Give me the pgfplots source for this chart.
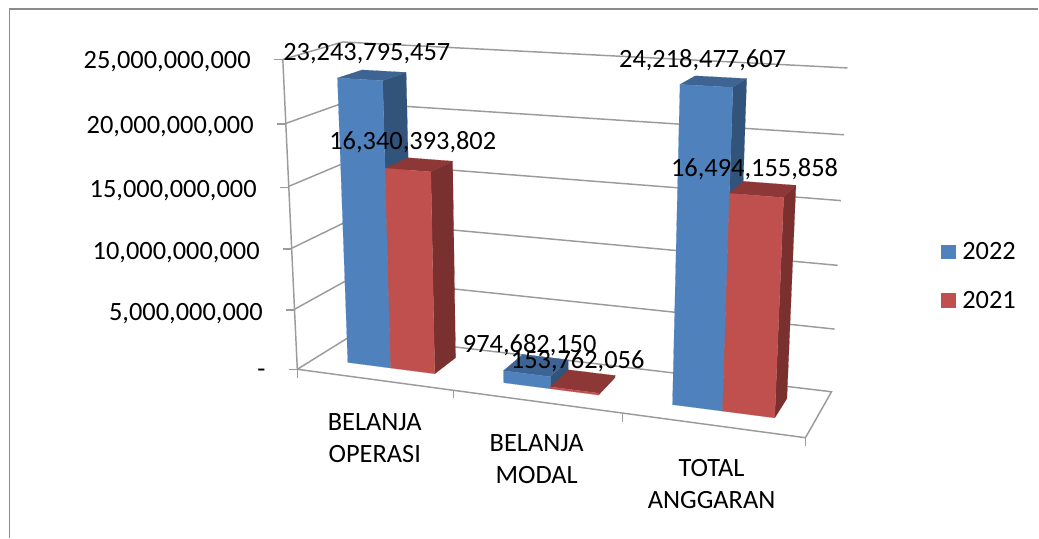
\documentclass[border=0pt]{standalone}
\usepackage{pgfplots}
\usepackage{fontspec}
\setmainfont{Carlito}
\pgfplotsset{compat=1.18}
\definecolor{bluef}{RGB}{79,129,189}
\definecolor{blues}{RGB}{50,83,122}
\definecolor{bluet}{RGB}{61,100,147}
\definecolor{redf}{RGB}{192,80,77}
\definecolor{reds}{RGB}{122,48,46}
\definecolor{redt}{RGB}{141,56,54}
\definecolor{gridc}{RGB}{155,155,155}
\definecolor{framec}{RGB}{140,140,140}
% three-dimensional data (u: category position, d: depth, v: value) mapped onto the drawing plane
\newcommand\poly[2]{\addplot[forget plot,mark=none,fill=#1,draw=#1,line width=0.1pt] table[row sep=\\,x expr={px(\thisrow{u},\thisrow{d},\thisrow{v})},y expr={py(\thisrow{u},\thisrow{d},\thisrow{v})}]{u d v\\ #2};}
\newcommand\wire[1]{\addplot[forget plot,mark=none,color=gridc,line width=1.1pt] table[row sep=\\,x expr={px(\thisrow{u},\thisrow{d},\thisrow{v})},y expr={py(\thisrow{u},\thisrow{d},\thisrow{v})}]{u d v\\ #1};}
% \bars{u0}{u1}{d0}{d1}{value}{front}{side}{top}
\newcommand\bars[8]{%
  \poly{#7}{#2 #3 0\\ #2 #4 0\\ #2 #4 #5\\ #2 #3 #5\\ #2 #3 0\\}
  \poly{#8}{#1 #3 #5\\ #2 #3 #5\\ #2 #4 #5\\ #1 #4 #5\\ #1 #3 #5\\}
  \poly{#6}{#1 #3 0\\ #2 #3 0\\ #2 #3 #5\\ #1 #3 #5\\ #1 #3 0\\}
}
\begin{document}
\begin{tikzpicture}[
  declare function={
    bil(\s,\d,\a,\b,\c,\e)=(1-\s)*(1-\d)*\a+\s*(1-\d)*\b+\s*\d*\c+(1-\s)*\d*\e;
    wv(\v)=(\v/25000000000)*(0.96+0.04*\v/25000000000);
    px(\u,\d,\v)=(1-wv(\v))*bil(\u/3,\d,297.5,806,832,353)+wv(\v)*bil(\u/3,\d,283,822,848,343);
    py(\u,\d,\v)=(1-wv(\v))*bil(\u/3,\d,369.5,438,392,335)+wv(\v)*bil(\u/3,\d,59.5,88,68,42);
  },
  lab/.style={font=\fontsize{19.8}{24}\selectfont,inner sep=0pt,text=black,yshift=-1pt},
]
\begin{axis}[
  scale only axis,width=779.25pt,height=403.5pt,
  xmin=0,xmax=1039,ymin=0,ymax=538,y dir=reverse,
  hide axis,clip=false,
  legend style={at={(axis cs:939,237)},anchor=north west,draw=none,fill=none,
    font=\fontsize{19.8}{24}\selectfont,row sep=18pt,inner sep=2pt,
    /tikz/every odd column/.append style={column sep=2.5pt}},
  legend cell align=left,
  legend image code/.code={\fill[#1,draw=none] (0pt,-5.6pt) rectangle (11.2pt,5.6pt);},
]
% page extent
\path (axis cs:0,0) rectangle (axis cs:1039,538);
% frame
\draw[framec,line width=1pt] (axis cs:9.5,538)--(axis cs:9.5,9)--(axis cs:1039,9);
% walls and floor
\wire{0 0 0\\ 0 1 0\\ 3 1 0\\ 3 0 0\\ 0 0 0\\}
\wire{0 0 5000000000\\ 0 1 5000000000\\ 3 1 5000000000\\}
\wire{0 0 10000000000\\ 0 1 10000000000\\ 3 1 10000000000\\}
\wire{0 0 15000000000\\ 0 1 15000000000\\ 3 1 15000000000\\}
\wire{0 0 20000000000\\ 0 1 20000000000\\ 3 1 20000000000\\}
\wire{0 0 25000000000\\ 0 1 25000000000\\ 3 1 25000000000\\}
\wire{0 0 0\\ 0 0 25000000000\\}
% axis ticks
\draw[gridc,line width=1.1pt]
  (axis cs:274,59.5)--(axis cs:283,59.5)
  (axis cs:277,124)--(axis cs:286,124)
  (axis cs:280,187.5)--(axis cs:289,187.5)
  (axis cs:283,249)--(axis cs:292,249)
  (axis cs:286,310)--(axis cs:295,310)
  (axis cs:289,369.5)--(axis cs:298,369.5)
  (axis cs:297.5,369.5)--(axis cs:297.5,378)
  (axis cs:454,391)--(axis cs:454,398)
  (axis cs:623,414)--(axis cs:623,422)
  (axis cs:806,438)--(axis cs:806,446);
% bars
\bars{0.197}{0.455}{0.32}{0.75}{23243795457}{bluef}{blues}{bluet}
\bars{0.455}{0.72}{0.32}{0.75}{16340393802}{redf}{reds}{redt}
\bars{1.134}{1.416}{0.32}{0.75}{974682150}{bluef}{blues}{bluet}
\bars{1.416}{1.705}{0.32}{0.75}{153762056}{redf}{reds}{redt}
\bars{2.15}{2.451}{0.32}{0.75}{24218477607}{bluef}{blues}{bluet}
\bars{2.451}{2.765}{0.32}{0.75}{16494155858}{redf}{reds}{redt}
% legend
\addlegendimage{fill=bluef}
\addlegendentry{2022}
\addlegendimage{fill=redf}
\addlegendentry{2021}
% value axis labels
\node[lab,anchor=east] at (axis cs:251,60) {25,000,000,000};
\node[lab,anchor=east] at (axis cs:254,125) {20,000,000,000};
\node[lab,anchor=east] at (axis cs:257,189) {15,000,000,000};
\node[lab,anchor=east] at (axis cs:260,251) {10,000,000,000};
\node[lab,anchor=east] at (axis cs:263,312) {5,000,000,000};
\node[lab,anchor=east] at (axis cs:266,372) {-};
% data labels
\node[lab] at (axis cs:367,52) {23,243,795,457};
\node[lab] at (axis cs:413,141) {16,340,393,802};
\node[lab] at (axis cs:530,344) {974,682,150};
\node[lab] at (axis cs:578,360) {153,762,056};
\node[lab] at (axis cs:703,59) {24,218,477,607};
\node[lab] at (axis cs:755,168) {16,494,155,858};
% category labels
\node[lab] at (axis cs:375,421) {BELANJA};
\node[lab] at (axis cs:375,453) {OPERASI};
\node[lab] at (axis cs:537,442) {BELANJA};
\node[lab] at (axis cs:537,474) {MODAL};
\node[lab] at (axis cs:712,467) {TOTAL};
\node[lab] at (axis cs:712,499) {ANGGARAN};
\end{axis}
\end{tikzpicture}
\end{document}
